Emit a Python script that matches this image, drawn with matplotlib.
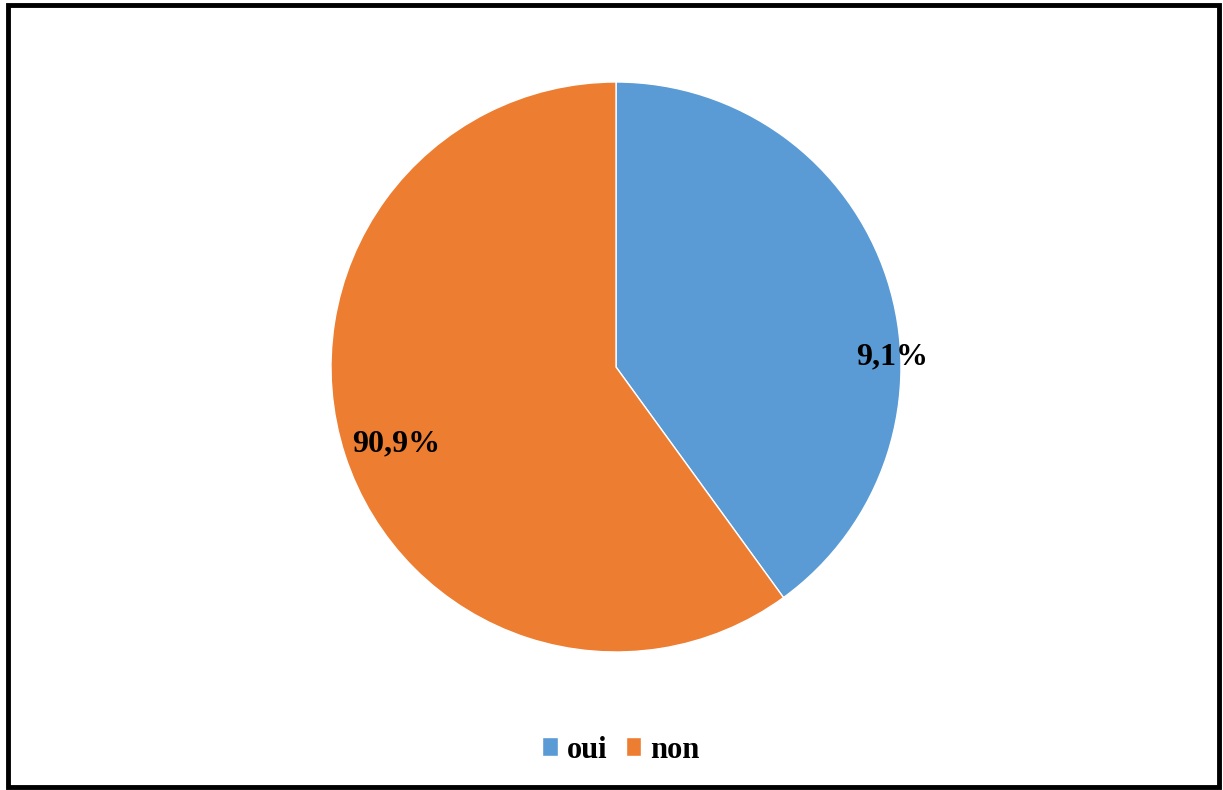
import matplotlib.pyplot as plt
from matplotlib.patches import Rectangle

categories = ['oui', 'non']
# slice sizes as drawn in the picture, and the printed labels
shares = [40, 60]
label_texts = ['9,1%', '90,9%']
colors = ['#5B9BD5', '#ED7D31']

plt.rcParams['font.family'] = ['Liberation Serif', 'DejaVu Serif']

fig = plt.figure(figsize=(12.23, 7.90), dpi=100)
ax = fig.add_axes([331 / 1223, 138 / 790, 570 / 1223, 570 / 790])

wedges, _ = ax.pie(shares, colors=colors, startangle=90, counterclock=False,
                   wedgeprops=dict(edgecolor='white', linewidth=1))
ax.set_xlim(-1, 1)
ax.set_ylim(-1, 1)
ax.set_aspect('equal')

ax.text(0.97, 0.035, label_texts[0], ha='center', va='center',
        fontsize=23, fontweight='bold')
ax.text(-0.77, -0.27, label_texts[1], ha='center', va='center',
        fontsize=23, fontweight='bold')

fig.legend(wedges, categories, loc='center', bbox_to_anchor=(621 / 1223, 1 - 750 / 790),
           ncol=2, frameon=False, handlelength=0.5, handleheight=0.55,
           handletextpad=0.3, columnspacing=0.6,
           prop=dict(family='Liberation Serif', weight='bold', size=22))

# outer black frame
fig.patches.append(Rectangle((8 / 1223, 3 / 790), 1211 / 1223, 782 / 790,
                             transform=fig.transFigure, fill=False,
                             edgecolor='black', linewidth=3.5))

fig.savefig('out.png', dpi=100)
